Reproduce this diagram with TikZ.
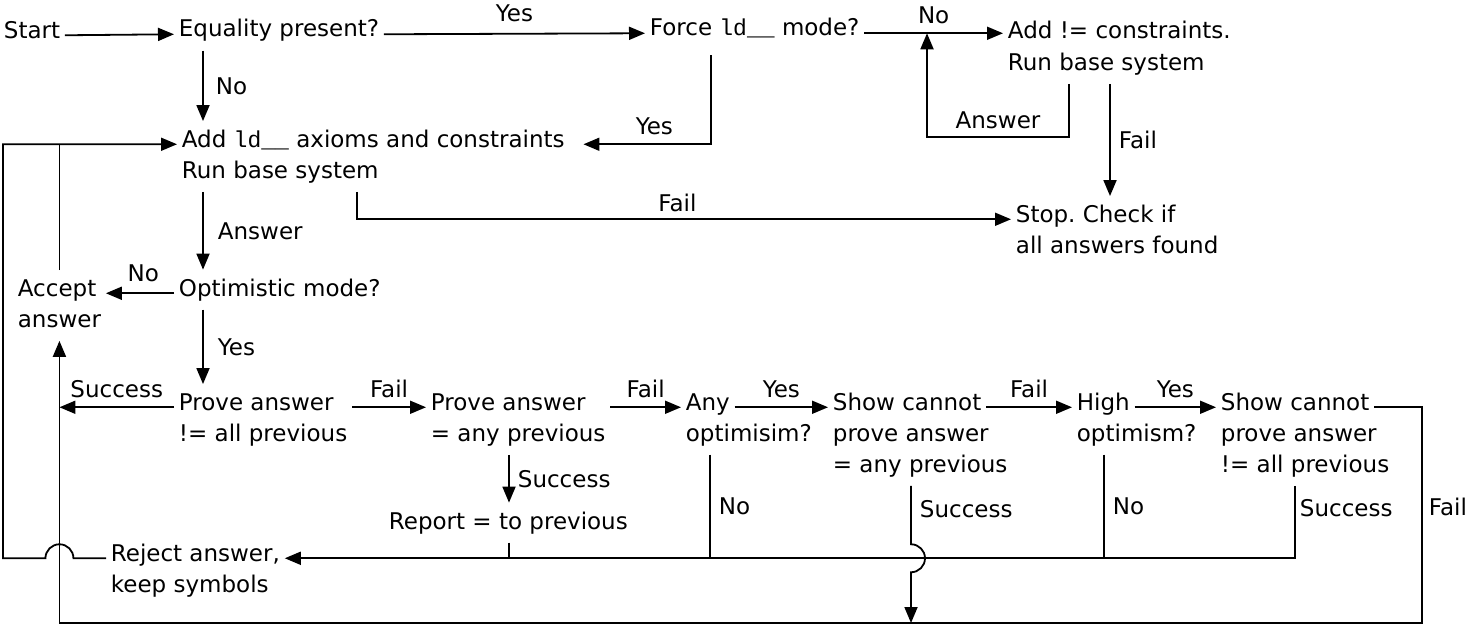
\documentclass[tikz,border=0pt]{standalone}
\usepackage{fontspec}
\setmainfont{DejaVu Sans}
\setmonofont{Liberation Mono}
\usetikzlibrary{arrows.meta}
\newcommand{\textlines}[1]{\begin{tabular}[t]{@{}l@{}}#1\end{tabular}}
\frenchspacing

\begin{document}
\begin{tikzpicture}[
  x = 1pt, y = -1pt,
  line width = 1.8pt,
  every node/.style = {font = \fontsize{23}{31.5}\selectfont, inner xsep = 4pt, inner ysep = 8pt},
  txt/.style = {anchor = base west},
  multi/.style = {txt, inner ysep = 3pt},
  lbl/.style = {inner sep = 0pt, text depth = 0pt},
  arr/.style = {-{Triangle[length = 16pt, width = 13pt]}},
  ]
  \useasboundingbox (0, 0) rectangle (1466, 626);

  \node[txt]   (start)  at (-1, 38)    {Start};
  \node[txt]   (eq)     at (174, 37)   {Equality present?};
  \node[txt]   (force)  at (645, 36)   {Force \texttt{ld\_\_} mode?};
  \node[multi] (addne)  at (1003, 39)  {\textlines{Add != constraints.\\Run base system}};
  \node[multi] (addld)  at (177, 147)  {\textlines{Add \texttt{ld\_\_} axioms and constraints\\Run base system}};
  \node[multi] (stop)   at (1011, 222) {\textlines{Stop. Check if\\all answers found}};
  \node[multi] (accept) at (13, 296)   {\textlines{Accept\\answer}};
  \node[txt]   (opt)    at (174, 296)  {Optimistic mode?};
  \node[multi] (prove1) at (174, 410)  {\textlines{Prove answer\\!= all previous}};
  \node[multi] (prove2) at (426, 410)  {\textlines{Prove answer\\= any previous}};
  \node[txt]   (any)    at (681, 410)  {Any};
  \node[txt]   (anyb)   at (681, 441)  {optimisim?};
  \node[txt]   (show1)  at (828, 410)  {Show cannot};
  \node[multi] (show1b) at (828, 441)  {\textlines{prove answer\\= any previous}};
  \node[txt]   (high)   at (1072, 410) {High};
  \node[txt]   (highb)  at (1072, 441) {optimism?};
  \node[txt]   (show2)  at (1216, 410) {Show cannot};
  \node[multi] (show2b) at (1216, 441) {\textlines{prove answer\\!= all previous}};
  \node[txt]   (report) at (384, 529)  {Report = to previous};
  \node[multi] (reject) at (106, 561)  {\textlines{Reject answer,\\keep symbols}};

  \coordinate (cMain)  at (203, 0);
  \coordinate (cForce) at (711, 0);
  \coordinate (cAns)   at (1069, 0);
  \coordinate (cNo)    at (927, 0);
  \coordinate (cFail)  at (1110, 0);
  \coordinate (cRun)   at (357, 0);
  \coordinate (cRep)   at (509, 0);
  \coordinate (cAny)   at (710, 0);
  \coordinate (cShow)  at (911, 0);
  \coordinate (cHigh)  at (1104, 0);
  \coordinate (cLast)  at (1295, 0);
  \coordinate (cOut)   at (3, 0);
  \coordinate (cBot)   at (1422, 623);

  \draw[arr] (start.mid east) -- (eq.mid west);
  \draw[arr] (eq.mid east) -- node[lbl, above = 11pt] {Yes} (force.mid west);
  \draw[arr] (force.mid east) -- node[lbl, above = 9pt] {No} (force.mid east -| addne.west);
  \draw[arr] (addne.south -| cAns) -- ++(0, 53) -| node[lbl, above = 7pt, pos = 0.25] {Answer} (cNo |- force.mid east);
  \draw[arr] (addne.south -| cFail) -- node[lbl, right = 8pt] {Fail} (stop.north -| cFail);
  \draw[arr] (eq.south -| cMain) -- node[lbl, right = 12pt] {No} (addld.north -| cMain);
  \draw[arr, shorten <= 8pt, shorten >= 14pt] (force.south -| cForce) |- node[lbl, above = 9pt, pos = 0.7] {Yes} (addld.mid east);
  \draw[arr] (addld.south -| cRun) |- node[lbl, above = 7pt, pos = 0.745] {Fail} (stop.mid west);
  \draw[arr] (addld.south -| cMain) -- node[lbl, right = 14pt] {Answer} (opt.north -| cMain);
  \draw[arr] (opt.mid west) -- node[lbl, above = 11pt, pos = 0.45] {No} (accept.mid east);
  \draw[arr] (opt.south -| cMain) -- node[lbl, right = 14pt] {Yes} (prove1.north -| cMain);
  \draw[arr] (prove1.mid west) -- node[lbl, above = 9pt] {Success} (prove1.mid west -| accept.south);
  \draw[arr] (prove1.mid east) -- node[lbl, above = 9pt] {Fail} (prove2.mid west);
  \draw[arr] (prove2.mid east) -- node[lbl, above = 9pt] {Fail} (any.mid west);
  \draw[arr] (any.mid east) -- node[lbl, above = 9pt] {Yes} (show1.mid west);
  \draw[arr] (show1.mid east) -- node[lbl, above = 9pt] {Fail} (high.mid west);
  \draw[arr] (high.mid east) -- node[lbl, above = 9pt] {Yes} (show2.mid west);
  \draw[arr] (prove2.south -| cRep) -- node[lbl, right = 8pt] {Success} (report.north -| cRep);
  \draw (report.south -| cRep) -- (cRep |- reject.mid east);
  \draw (anyb.south -| cAny) -- node[lbl, right = 8pt] {No} (cAny |- reject.mid east);
  \draw (highb.south -| cHigh) -- node[lbl, right = 8pt] {No} (cHigh |- reject.mid east);
  \draw[arr] (show2b.south -| cLast) |- node[lbl, right = 4pt, pos = 0.15] {Success} (reject.mid east);
  \draw[arr] (show1b.south -| cShow) -- node[lbl, right = 8pt, pos = 0.4] {Success} ([yshift = 14pt]cShow |- reject.mid east)
    arc[start angle = 90, end angle = -90, radius = 14pt] -- (cShow |- cBot);
  \draw[arr] (show2.mid east) -| node[lbl, right = 6pt, pos = 0.73] {Fail} (cBot) -| (accept.south);
  \draw (accept.north) -- (accept.north |- addld.mid west);
  \draw[arr] (reject.mid west) -- ([xshift = 14pt]accept.south |- reject.mid west)
    arc[start angle = 0, end angle = 180, radius = 14pt] -- (cOut |- reject.mid west) |- (addld.mid west);
\end{tikzpicture}
\end{document}
